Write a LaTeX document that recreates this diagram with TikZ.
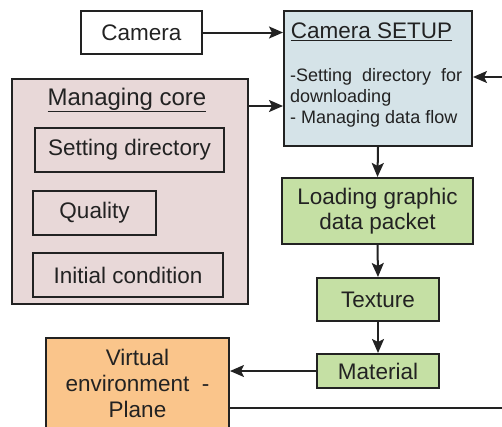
\documentclass[tikz,border=0pt]{standalone}
\usepackage{fontspec}
\setmainfont{Liberation Sans}
\usetikzlibrary{arrows.meta}
\definecolor{setupblue}{HTML}{D5E3E8}
\definecolor{corepink}{HTML}{E8D8D8}
\definecolor{stagegreen}{HTML}{C5E0A4}
\definecolor{envorange}{HTML}{FAC58B}
\definecolor{ink}{HTML}{222222}
\begin{document}
\begin{tikzpicture}[x=1pt,y=-1pt,
  box/.style={draw=ink, line width=2pt, anchor=north west, inner sep=0pt,
    align=center, text=ink, font=\fontsize{22.5}{25}\selectfont},
  label/.style={inner sep=0pt, text=ink, font=\fontsize{22.5}{25}\selectfont},
  flow/.style={draw=ink, line width=2pt, -{Stealth[length=14pt,width=12pt,inset=3pt]}}
]
\useasboundingbox (0,0) rectangle (502,426);

% top row
\node[box, minimum width=121pt, minimum height=43pt] (cam) at (80,10) {Camera};
\node[box, fill=setupblue, minimum width=188pt, minimum height=135pt] (setup) at (283,10) {};
\node[label] (setuptitle) at (371.5,32) {\underline{Camera SETUP}};
\node[label, anchor=north west, align=left, font=\fontsize{18}{21}\selectfont]
  (setupbody) at (290,68.5)
  {\makebox[172pt][s]{-Setting directory for}\\downloading\\- Managing data flow};

% managing core block
\node[box, fill=corepink, minimum width=236pt, minimum height=225pt] (core) at (11,78) {};
\node[label, font=\fontsize{24}{26}\selectfont] (coretitle) at (127,100) {\underline{Managing core}};
\node[box, minimum width=189pt, minimum height=44pt] (dir) at (34,127) {Setting directory};
\node[box, minimum width=123pt, minimum height=44pt] (quality) at (32,190) {Quality};
\node[box, minimum width=190pt, minimum height=44pt] (init) at (32,252) {Initial condition};

% processing chain
\node[box, fill=stagegreen, minimum width=191pt, minimum height=66pt] (load) at (281,177) {Loading graphic\\data packet};
\node[box, fill=stagegreen, minimum width=122pt, minimum height=43pt] (texture) at (316,277) {Texture};
\node[box, fill=stagegreen, minimum width=122pt, minimum height=34pt] (material) at (316,353) {Material};
\node[box, fill=envorange, minimum width=183pt, minimum height=91pt, font=\fontsize{22.5}{26}\selectfont] (virt) at (45,337) {Virtual\\environment\ \ -\\Plane};

% connectors
\coordinate (coreout) at (0,106);
\coordinate (backlow) at (505,408);
\coordinate (backhigh) at (505,77);
\draw[flow] (cam.east) -- (cam.east -| setup.west);
\draw[flow] (core.east |- coreout) -- (setup.west |- coreout);
\draw[flow] (setup.south) -- (load.north);
\draw[flow] (load.south) -- (texture.north);
\draw[flow] (texture.south) -- (material.north);
\draw[flow] (material.west) -- (material.west -| virt.east);
\draw[flow] (virt.east |- backlow) -- (backlow) -- (backhigh) -- (setup.east |- backhigh);
\end{tikzpicture}
\end{document}
